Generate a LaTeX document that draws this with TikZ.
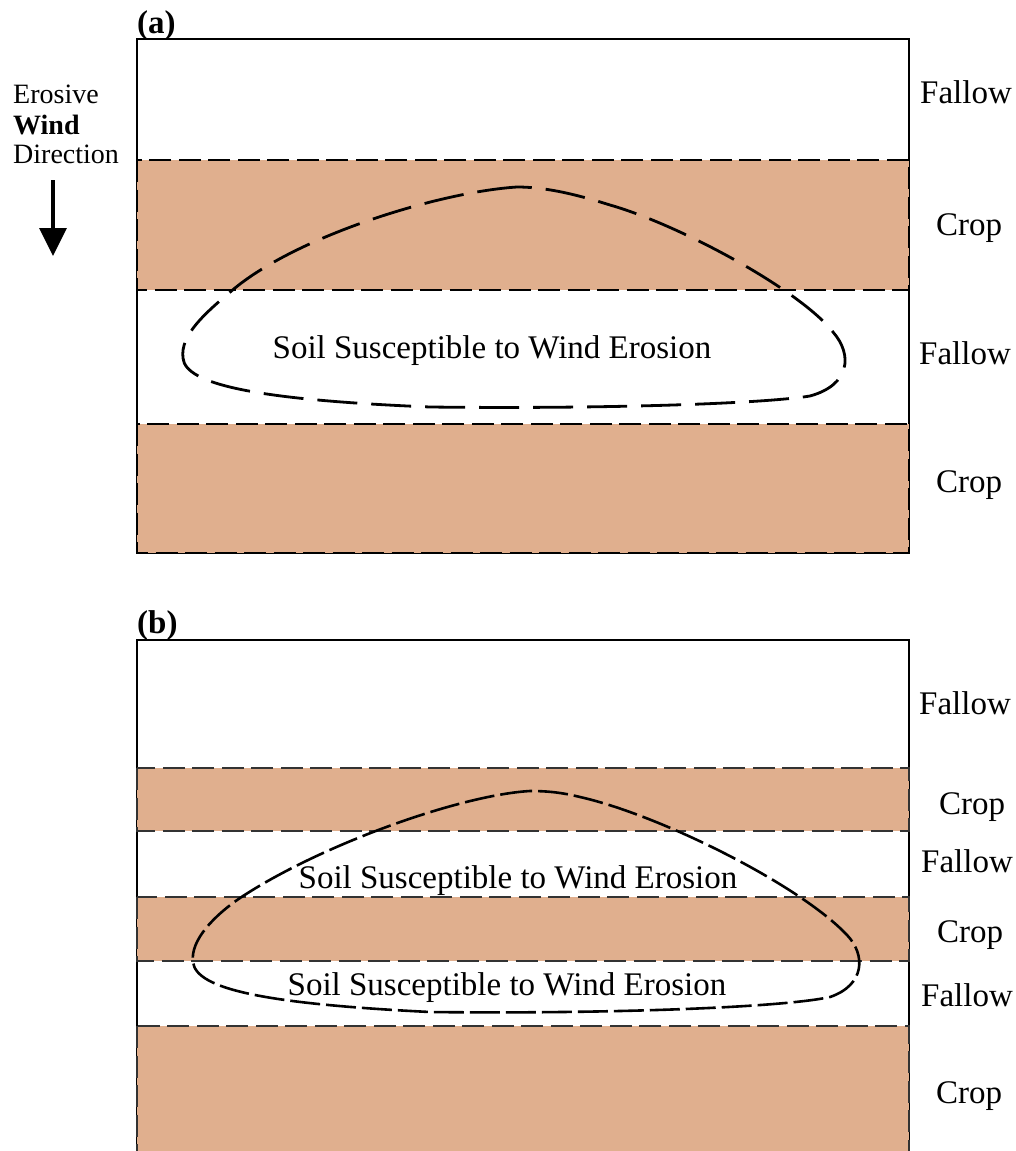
\documentclass[tikz,border=0pt]{standalone}
\usepackage{fontspec}
\setmainfont{Liberation Serif}
\usetikzlibrary{arrows.meta}
\definecolor{croptan}{RGB}{224,175,142}
\tikzset{
  lbl/.style={anchor=base, inner sep=0pt, font=\fontsize{33}{40}\selectfont},
  sidelbl/.style={anchor=base west, inner sep=0pt, font=\fontsize{28}{34}\selectfont},
  panel/.style={anchor=base west, inner sep=0pt, font=\fontsize{33}{40}\selectfont\bfseries},
  frame/.style={draw=black, line width=1.6pt},
  cropband/.style={fill=croptan, draw=black, line width=2.3pt, dash pattern=on 22pt off 7.5pt},
  cropbandb/.style={fill=croptan, draw=black!80, line width=1.6pt, dash pattern=on 22pt off 7.5pt},
  zonea/.style={draw=black, line width=2.8pt, dash pattern=on 40pt off 14pt},
  zoneb/.style={draw=black, line width=2.6pt, dash pattern=on 30pt off 6pt},
}
\begin{document}
\begin{tikzpicture}[x=1pt,y=-1pt]
\useasboundingbox (0,0) rectangle (1016,1151);
% ---------- panel (a) ----------
\draw[frame] (137,39) rectangle (909,553);
\draw[cropband] (137,160) rectangle (909,290);
\draw[cropband] (137,424) rectangle (909,553);
\draw[zonea] (517,187) .. controls (440,192) and (300,235) .. (235,288)
  .. controls (205,313) and (180,335) .. (183,358)
  .. controls (185,385) and (260,400) .. (430,407)
  .. controls (600,409) and (760,404) .. (810,396)
  .. controls (850,385) and (853,355) .. (833,332)
  .. controls (800,290) and (680,225) .. (610,205)
  .. controls (575,194) and (545,187) .. (517,187) -- cycle;
\node[panel] (pa) at (137,33) {(a)};
\node[sidelbl] (ero) at (13,103) {Erosive};
\node[sidelbl] (wnd) at (13,134) {\bfseries Wind};
\node[sidelbl] (dir) at (13,163) {Direction};
\coordinate (arrs) at (53,180);
\coordinate (arre) at (53,256);
\draw[line width=3.5pt, -{Triangle[length=28pt,width=27pt]}] (arrs) -- (arre);
\node[lbl] (fa1) at (966,103) {Fallow};
\node[lbl] (ca1) at (969,235) {Crop};
\node[lbl] (fa2) at (965,364) {Fallow};
\node[lbl] (ca2) at (969,492) {Crop};
\node[lbl] (sa) at (492,358) {Soil Susceptible to Wind Erosion};
% ---------- panel (b) ----------
\draw[frame] (137,640) rectangle (909,1160);
\draw[cropbandb] (137,768) rectangle (909,831);
\draw[cropbandb] (137,897) rectangle (909,961);
\draw[cropbandb] (137,1026) rectangle (909,1165);
\draw[zoneb] (530,791) .. controls (460,795) and (320,845) .. (240,898)
  .. controls (215,915) and (190,940) .. (193,962)
  .. controls (196,990) and (270,1004) .. (430,1012)
  .. controls (600,1014) and (780,1008) .. (830,997)
  .. controls (865,985) and (866,955) .. (847,935)
  .. controls (800,885) and (660,815) .. (580,797)
  .. controls (560,792) and (545,791) .. (530,791) -- cycle;
\node[panel] (pb) at (137,633) {(b)};
\node[lbl] (fb1) at (965,714) {Fallow};
\node[lbl] (cb1) at (972,814) {Crop};
\node[lbl] (fb2) at (967,872) {Fallow};
\node[lbl] (cb2) at (970,942) {Crop};
\node[lbl] (fb3) at (967,1006) {Fallow};
\node[lbl] (cb3) at (969,1103) {Crop};
\node[lbl] (sb1) at (518,888) {Soil Susceptible to Wind Erosion};
\node[lbl] (sb2) at (507,995) {Soil Susceptible to Wind Erosion};
\end{tikzpicture}
\end{document}
